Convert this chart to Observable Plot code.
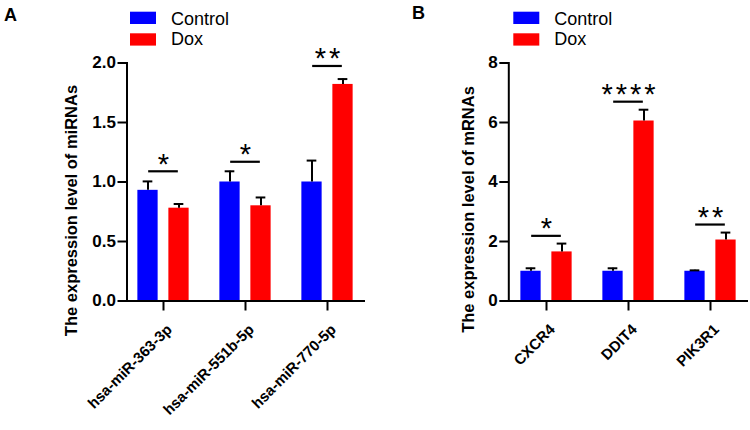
<!DOCTYPE html>
<html><head><meta charset="utf-8">
<script src="https://cdn.jsdelivr.net/npm/d3@7"></script>
<script src="https://cdn.jsdelivr.net/npm/@observablehq/plot@0.6"></script>
<style>
body{margin:0;background:#fff;font-family:"Liberation Sans",Arial,sans-serif;}
#wrap{position:relative;width:750px;height:430px;overflow:hidden;background:#fff;}
.panel{position:absolute;top:0;}
.stars text{letter-spacing:3px;}
#overlay{position:absolute;left:0;top:0;pointer-events:none;}
</style></head><body><div id="wrap"></div>
<script>
const groups = ["Control", "Dox"];
const groupColors = ["#0000ff", "#ff0000"];

// Panel A: miRNAs
const miRNAs = ["hsa-miR-363-3p", "hsa-miR-551b-5p", "hsa-miR-770-5p"];
const miControl = [0.93, 1.00, 1.00];
const miControlErr = [0.075, 0.09, 0.18];
const miDox = [0.78, 0.80, 1.82];
const miDoxErr = [0.035, 0.07, 0.045];
const miSig = ["*", "*", "**"];
const miSigY = [1.09, 1.17, 1.975];
const miTicks = [0, 0.5, 1.0, 1.5, 2.0];

// Panel B: mRNAs
const mRNAs = ["CXCR4", "DDIT4", "PIK3R1"];
const mControl = [1.0, 1.0, 1.0];
const mControlErr = [0.1, 0.1, 0.03];
const mDox = [1.65, 6.05, 2.05];
const mDoxErr = [0.28, 0.38, 0.25];
const mSig = ["*", "****", "**"];
const mSigY = [2.19, 6.70, 2.57];
const mTicks = [0, 2, 4, 6, 8];

const FONT = '"Liberation Sans", Arial, sans-serif';

function panel(o) {
  const ctrlRows = o.genes.map((g, i) => ({gene: g, group: groups[0], v: o.ctrl[i], e: o.ctrlErr[i]}));
  const doxRows = o.genes.map((g, i) => ({gene: g, group: groups[1], v: o.dox[i], e: o.doxErr[i]}));
  const sigRows = o.genes.map((g, i) => ({gene: g, s: o.sig[i], y: o.sigY[i]}));
  const step = (o.xRange[1] - o.xRange[0]) / o.genes.length;
  const half = step / 2;
  const off = 15.5, bw = 20.6;
  const inOuter = half - off - bw / 2, inInner = half + off - bw / 2;
  const capIn = half - 5;
  const lineIn = half - 15;
  return Plot.plot({
    width: 375, height: 430,
    marginTop: 62.5, marginBottom: 129.5, marginLeft: o.marginLeft, marginRight: o.marginRight,
    style: {fontFamily: FONT, background: "transparent", overflow: "visible", color: "#000"},
    x: {domain: o.genes, range: o.xRange, padding: 0, label: null},
    y: {domain: [0, o.yMax], label: null},
    color: {domain: groups, range: groupColors},
    marks: [
      Plot.barY(ctrlRows, {x: "gene", y: "v", fill: "group", insetLeft: inOuter, insetRight: inInner}),
      Plot.barY(doxRows, {x: "gene", y: "v", fill: "group", insetLeft: inInner, insetRight: inOuter}),
      Plot.ruleX(ctrlRows, {x: "gene", y1: "v", y2: d => d.v + d.e, dx: -off, stroke: "#000", strokeWidth: 2}),
      Plot.ruleX(doxRows, {x: "gene", y1: "v", y2: d => d.v + d.e, dx: off, stroke: "#000", strokeWidth: 2}),
      Plot.tickY(ctrlRows, {x: "gene", y: d => d.v + d.e, dx: -off, insetLeft: capIn, insetRight: capIn, stroke: "#000", strokeWidth: 2}),
      Plot.tickY(doxRows, {x: "gene", y: d => d.v + d.e, dx: off, insetLeft: capIn, insetRight: capIn, stroke: "#000", strokeWidth: 2}),
      Plot.tickY(sigRows, {x: "gene", y: "y", insetLeft: lineIn, insetRight: lineIn, stroke: "#000", strokeWidth: 2.2}),
      Plot.text(sigRows, {x: "gene", y: "y", text: "s", fontSize: 29, dy: -7, dx: 1.5, fill: "#000", className: "stars"}),
      Plot.axisY({ticks: o.ticks, tickFormat: o.fmt, tickSize: 9, tickPadding: 2, fontSize: 17, fontWeight: "bold", strokeWidth: 2, label: null}),
      Plot.axisX({tickSize: 10, strokeWidth: 2, tickFormat: () => "", label: null}),
      Plot.axisX({tickSize: 0, tickRotate: -45, tickPadding: 18, dx: 6, dy: 8, fontSize: 15, fontWeight: "bold", label: null}),
      Plot.frame({anchor: "left", strokeWidth: 2, stroke: "#000"}),
      Plot.ruleY([0], {strokeWidth: 2, stroke: "#000"}),
      Plot.text([o.title], {frameAnchor: "left", rotate: -90, dx: o.titleDx, dy: o.titleDy, fontSize: 16.5, fontWeight: "bold", fill: "#000", textAnchor: "middle"})
    ]
  });
}

const wrap = document.getElementById("wrap");

const pA = panel({
  genes: miRNAs, ctrl: miControl, ctrlErr: miControlErr, dox: miDox, doxErr: miDoxErr,
  sig: miSig, sigY: miSigY, ticks: miTicks, yMax: 2, fmt: d3.format(".1f"),
  title: "The expression level of miRNAs",
  marginLeft: 126.5, marginRight: 10, xRange: [121.5, 368.5], titleDx: -55, titleDy: 28.5
});
pA.classList.add("panel"); pA.style.left = "0px";
wrap.appendChild(pA);

const pB = panel({
  genes: mRNAs, ctrl: mControl, ctrlErr: mControlErr, dox: mDox, doxErr: mDoxErr,
  sig: mSig, sigY: mSigY, ticks: mTicks, yMax: 8, fmt: d3.format("d"),
  title: "The expression level of mRNAs",
  marginLeft: 133.3, marginRight: 2, xRange: [129.5, 376.5], titleDx: -39.8, titleDy: 27.5
});
pB.classList.add("panel"); pB.style.left = "375px";
wrap.appendChild(pB);

// Overlay: panel letters and legends
const ov = d3.select(wrap).append("svg").attr("id", "overlay")
  .attr("width", 750).attr("height", 430)
  .style("font-family", FONT);
ov.append("text").attr("x", 4).attr("y", 21).attr("font-size", 18).attr("font-weight", "bold").text("A");
ov.append("text").attr("x", 412).attr("y", 18.5).attr("font-size", 18).attr("font-weight", "bold").text("B");
function legend(x0, tx) {
  groups.forEach((g, i) => {
    ov.append("rect").attr("x", x0).attr("y", i === 0 ? 11.7 : 33.3).attr("width", 26).attr("height", 12.3).attr("fill", groupColors[i]);
    ov.append("text").attr("x", tx).attr("y", i === 0 ? 25 : 45).attr("font-size", 18).attr("fill", "#000").text(g);
  });
}
legend(130, 171);
legend(513.3, 554.3);
</script></body></html>
